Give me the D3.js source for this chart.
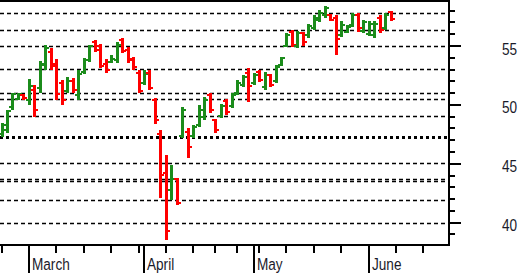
<!DOCTYPE html>
<html><head><meta charset="utf-8">
<script src="https://cdn.jsdelivr.net/npm/d3@7"></script>
<style>html,body{margin:0;padding:0;background:#fff;} svg{display:block}</style>
</head><body>
<svg id="chart" width="520" height="273"></svg>
<script>
// Daily OHLC values (trading-day index 0..71)
const opens  = [47.5,47.9,49.85,50.5,50.85,50.4,51.3,51.4,53.5,54.5,53.5,51.9,51.2,52.0,50.8,52.8,53.8,55.3,55.0,53.5,53.6,53.8,55.5,54.7,53.9,52.7,51.9,52.7,50.4,47.5,44.2,42.8,43.7,47.4,47.7,47.4,48.3,49.0,50.8,48.7,49.1,50.3,49.9,51.0,51.7,52.7,51.9,52.8,51.5,52.5,52.0,53.4,55.0,56.2,55.0,56.1,55.9,56.5,57.2,57.6,57.6,57.4,55.9,56.2,56.8,57.6,56.3,56.0,55.9,57.4,56.5,57.9];
const highs  = [48.45,49.57,51.0,51.0,50.92,52.2,51.7,53.7,55.1,54.8,53.9,52.1,52.4,52.3,52.96,54.0,55.1,55.5,55.2,53.9,54.2,55.35,55.7,54.9,54.1,52.96,52.96,52.96,50.6,47.87,45.75,44.9,43.8,49.8,48.0,48.3,50.0,50.7,51.0,48.8,50.1,50.5,51.0,52.1,52.55,53.1,52.7,52.96,52.8,52.6,53.4,54.1,56.1,56.35,56.3,56.2,56.9,57.6,58.05,58.4,57.7,57.6,57.1,56.8,57.8,57.8,57.2,57.1,57.1,57.6,57.8,57.95];
const lows   = [47.3,47.61,49.57,50.42,50.42,50.0,49.0,51.0,52.96,53.0,50.4,50.0,51.0,51.0,50.42,52.6,53.65,54.5,53.1,52.7,53.55,53.55,54.4,53.55,53.0,51.0,51.7,51.26,48.4,42.1,38.5,41.9,41.5,47.2,45.5,47.2,48.1,48.7,49.3,47.6,48.9,49.15,49.7,50.85,51.5,50.25,51.7,51.95,51.25,51.5,51.85,53.3,54.9,54.9,54.85,55.0,55.7,56.35,57.0,57.4,57.1,54.25,55.75,56.1,56.6,56.2,56.1,55.85,55.7,56.1,56.35,57.1];
const closes = [48.3,49.45,50.9,50.9,50.6,51.6,49.6,53.4,54.8,53.3,50.9,50.4,52.0,51.3,52.6,53.8,55.0,54.7,53.3,53.0,53.9,55.1,54.6,53.8,53.2,51.2,52.6,51.4,48.7,44.05,39.3,43.7,41.7,49.6,46.45,48.1,49.6,50.4,49.6,47.9,49.9,49.4,50.8,51.9,52.4,51.6,52.5,52.1,52.5,51.7,53.2,54.0,55.9,55.1,56.1,55.3,56.7,57.4,57.8,58.2,57.2,55.6,56.8,56.6,57.6,56.5,57.0,56.9,56.9,56.4,57.6,57.3];

// Horizontal dashed levels
const levels = [57.78,56.33,55.0,53.02,50.98,50.5,49.06,45.04,43.68,43.53,41.9,39.95];
const boldLevels = [47.3];

// Axis ticks / labels
const yTickValues = [40,45,50,55];
const yMinorTicks = [39,40,41,42,43,44,45,46,47,48,49,50,51,52,53,54,55,56,57,58];
const monthLabels = ["March","April","May","June"];
const monthStarts = [5,26,46,67];
const weekTicks = [0,5,10,15,20,25,30,35,39,43,47,52,57,62,67,72,77];

const UP = "#1b8c1b", DOWN = "#ff0000";

const svg = d3.select("#chart");
const W = 449, H = 245;
const x = d3.scaleLinear().domain([-0.274, 81.66]).range([0, W]);
const y = d3.scaleLinear().domain([38.107, 58.905]).range([H, 0]);

const data = opens.map((o,i)=>({i, o, h:highs[i], l:lows[i], c:closes[i]}));

// dashed levels
svg.append("g").selectAll("line").data(levels).join("line")
  .attr("x1",0).attr("x2",W)
  .attr("y1",d=>Math.round(y(d))+0.5).attr("y2",d=>Math.round(y(d))+0.5)
  .attr("stroke","#000").attr("stroke-width",1.4).attr("stroke-dasharray","4,3");
svg.append("g").selectAll("line").data(boldLevels).join("line")
  .attr("x1",0).attr("x2",W)
  .attr("y1",d=>Math.round(y(d))+0.5).attr("y2",d=>Math.round(y(d))+0.5)
  .attr("stroke","#000").attr("stroke-width",2.8).attr("stroke-dasharray","3,3");

// OHLC bars
const bars = svg.append("g").attr("shape-rendering","crispEdges");
const g = bars.selectAll("g").data(data).join("g")
  .attr("fill", d=> d.c >= d.o ? UP : DOWN);
g.append("rect")
  .attr("x", d=>Math.round(x(d.i))-1).attr("width",3)
  .attr("y", d=>Math.round(y(d.h))).attr("height", d=>Math.max(2, Math.round(y(d.l))-Math.round(y(d.h))));
g.append("rect")
  .attr("x", d=>Math.round(x(d.i))-3).attr("width",2)
  .attr("y", d=>Math.round(y(d.o))-1).attr("height",2);
g.append("rect")
  .attr("x", d=>Math.round(x(d.i))+2).attr("width",2)
  .attr("y", d=>Math.round(y(d.c))-1).attr("height",2);

// frame: top and right border, bottom axis line
const frame = svg.append("g").attr("stroke","#000").attr("stroke-width",2).attr("shape-rendering","crispEdges");
frame.append("line").attr("x1",0).attr("x2",W+1).attr("y1",1).attr("y2",1);
frame.append("line").attr("x1",W).attr("x2",W).attr("y1",0).attr("y2",H+1);
frame.append("line").attr("x1",0).attr("x2",W+1).attr("y1",H).attr("y2",H);

// right axis ticks
const ry = svg.append("g").attr("stroke","#000").attr("stroke-width",1.5).attr("shape-rendering","crispEdges");
ry.selectAll("line.minor").data(yMinorTicks).join("line")
  .attr("x1",W).attr("x2",d=> yTickValues.includes(d) ? W+12 : W+6)
  .attr("y1",d=>Math.round(y(d))).attr("y2",d=>Math.round(y(d)));
svg.append("g").selectAll("g").data(yTickValues).join("g")
  .attr("transform", d=>`translate(517,${y(d)+8.5}) scale(0.8,1)`)
  .append("text").attr("text-anchor","end")
  .attr("font-family","'Liberation Sans', Arial, sans-serif").attr("font-size",17)
  .attr("fill","#1a1a2a").text(d=>d);

// bottom axis ticks
const bx = svg.append("g").attr("stroke","#000").attr("stroke-width",1.5).attr("shape-rendering","crispEdges");
bx.selectAll("line.w").data(weekTicks).join("line")
  .attr("x1",d=>Math.round(x(d))).attr("x2",d=>Math.round(x(d)))
  .attr("y1",H).attr("y2",H+8);
bx.selectAll("line.m").data(monthStarts).join("line")
  .attr("x1",d=>Math.round(x(d))).attr("x2",d=>Math.round(x(d)))
  .attr("y1",H).attr("y2",273);
svg.append("g").selectAll("g").data(monthStarts).join("g")
  .attr("transform", d=>`translate(${Math.round(x(d))+3},270) scale(0.8,1)`)
  .append("text")
  .attr("font-family","'Liberation Sans', Arial, sans-serif").attr("font-size",17)
  .attr("fill","#1a1a2a").text((d,k)=>monthLabels[k]);
</script>
</body></html>
